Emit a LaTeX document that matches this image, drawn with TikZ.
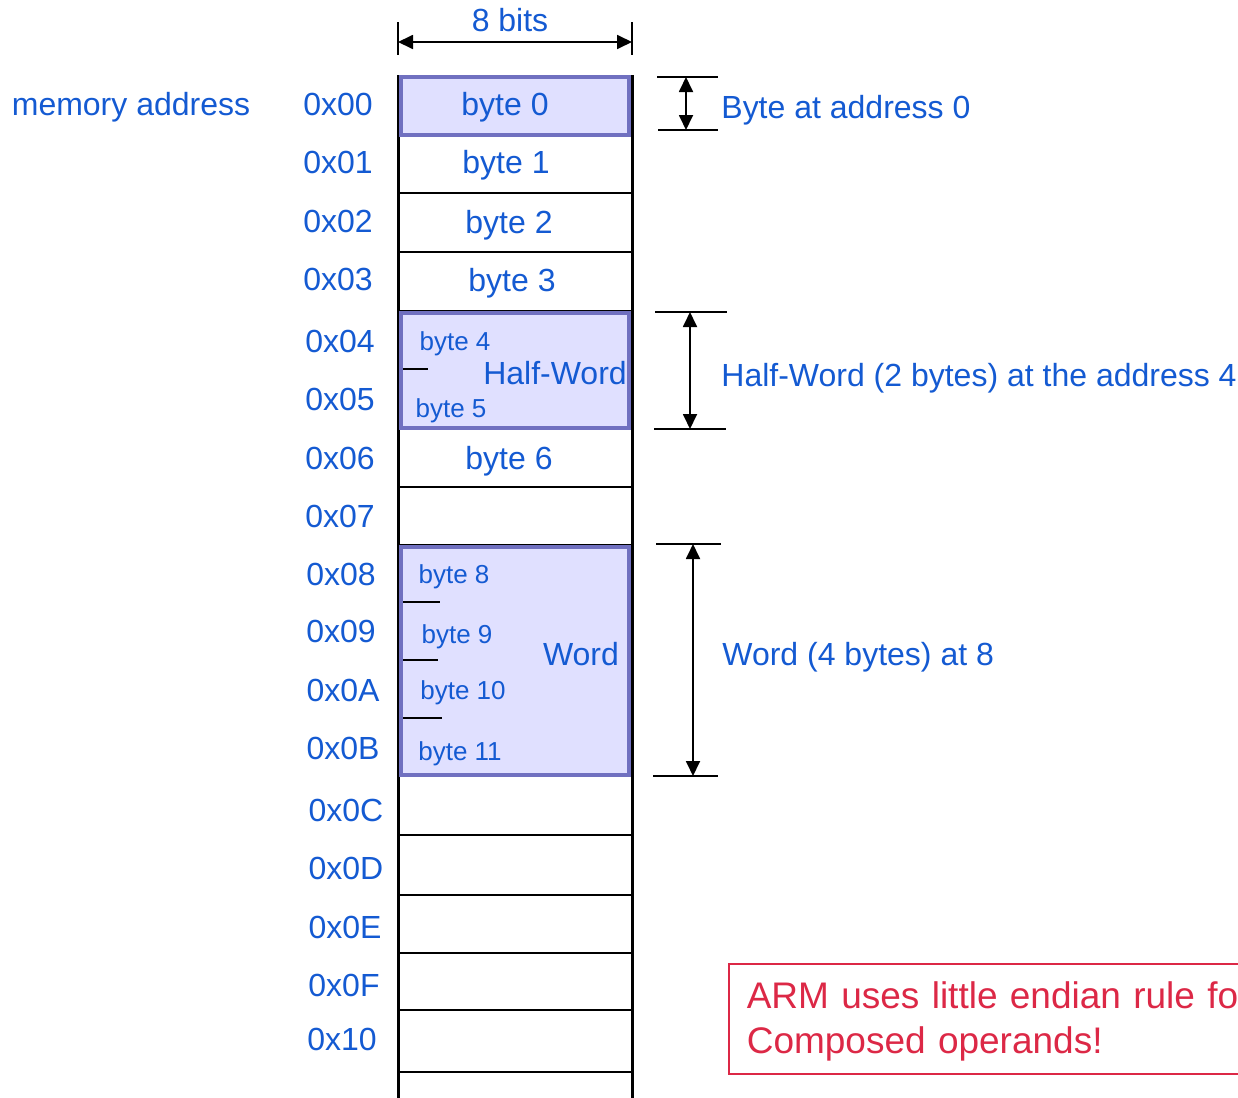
\documentclass[tikz,border=0pt]{standalone}
\usepackage{fontspec}
\setmainfont{Liberation Sans}
\usetikzlibrary{arrows.meta, positioning}
\definecolor{addrblue}{RGB}{20,90,210}
\definecolor{boxfill}{RGB}{224,224,255}
\definecolor{boxedge}{RGB}{112,112,192}
\definecolor{notered}{RGB}{220,40,70}

\begin{document}
\begin{tikzpicture}[x=0.5pt, y=-0.5pt,
  addr/.style={font=\fontsize{16}{19}\selectfont, text=addrblue, inner sep=0pt, text depth=0pt},
  inbyte/.style={font=\fontsize{13}{16}\selectfont, text=addrblue, inner sep=0pt, text depth=0pt},
  grp/.style={draw=boxedge, line width=2pt, fill=boxfill},
  dimarrow/.style={{Triangle[length=7.5pt,width=7pt]}-{Triangle[length=7.5pt,width=7pt]}, line width=0.9pt},
  dimtick/.style={line width=0.9pt}]

% === frame ===
\useasboundingbox (0,0) rectangle (1238,1098);
\clip (0,0) rectangle (1238,1098);

% === memory column ===
\draw[line width=1.5pt] (398,75) -- (398,1098) (632,75) -- (632,1098);
\foreach \y in {136,193,252,311,429,487,545,776,835,895,953,1010,1072}
  \draw[line width=0.9pt] (398,\y) -- (632,\y);

% grouped bytes
\draw[grp] (401,77) rectangle (629,135);
\draw[grp] (401,313) rectangle (629,428);
\draw[grp] (401,547) rectangle (629,775);
\draw[line width=0.8pt] (403,369) -- (428,369);
\foreach \y/\w in {602/440,660/438,718/442}
  \draw[line width=0.8pt] (403,\y) -- (\w,\y);

% === addresses ===
\node[addr] (memaddr) at (131,104) {memory address};
\foreach \name/\txt/\x/\y in {a0/0x00/338/104, a1/0x01/338/162, a2/0x02/338/221,
    a3/0x03/338/279, a4/0x04/340/341, a5/0x05/340/399, a6/0x06/340/458,
    a7/0x07/340/516, a8/0x08/341/574, a9/0x09/341/631, a10/0x0A/343/690,
    a11/0x0B/343/748, a12/0x0C/346/810, a13/0x0D/346/868, a14/0x0E/345/927,
    a15/0x0F/344/985, a16/0x10/342/1039}
  \node[addr] (\name) at (\x,\y) {\txt};

% === cell texts ===
\node[addr] (b0) at (505,104) {byte 0};
\node[addr] (b1) at (506,162) {byte 1};
\node[addr] (b2) at (509,222) {byte 2};
\node[addr] (b3) at (512,280) {byte 3};
\node[inbyte] (b4) at (455,341) {byte 4};
\node[addr] (half) at (555,373) {Half-Word};
\node[inbyte] (b5) at (451,408) {byte 5};
\node[addr] (b6) at (509,458) {byte 6};
\node[inbyte] (b8) at (454,574) {byte 8};
\node[inbyte] (b9) at (457,634) {byte 9};
\node[inbyte] (b10) at (463,690) {byte 10};
\node[inbyte] (b11) at (460,751) {byte 11};
\node[addr] (word) at (581,654) {Word};

% === width of a byte ===
\coordinate (wl) at (398,42);
\coordinate (wr) at (632,42);
\draw[dimtick] (398,22) -- (398,55) (632,22) -- (632,55);
\draw[dimarrow] (wl) -- (wr);
\node[addr] (bits) at (510,20) {8 bits};

% === spans ===
\coordinate (s0t) at (686,77);
\coordinate (s0b) at (686,130);
\draw[dimtick] (657,77) -- (718,77) (658,130) -- (718,130);
\draw[dimarrow] (s0t) -- (s0b);
\node[addr, anchor=west] (spanbyte) at (721,107) {Byte at address 0};

\coordinate (s1t) at (690,312);
\coordinate (s1b) at (690,429);
\draw[dimtick] (655,312) -- (727,312) (654,429) -- (726,429);
\draw[dimarrow] (s1t) -- (s1b);
\node[addr, anchor=west] (spanhalf) at (721,375) {Half-Word (2 bytes) at the address 4};

\coordinate (s2t) at (693,544);
\coordinate (s2b) at (693,776);
\draw[dimtick] (656,544) -- (721,544) (653,776) -- (718,776);
\draw[dimarrow] (s2t) -- (s2b);
\node[addr, anchor=west] (spanword) at (722,654) {Word (4 bytes) at 8};

% === note ===
\node[draw=notered, line width=0.8pt, anchor=north west, minimum height=55pt,
      text width=280pt, inner xsep=9pt, inner ysep=3pt, align=left, text=notered,
      text height=16.5pt, font=\fontsize{18.5}{22.5}\selectfont] (note) at (728,963)
  {ARM uses little endian rule for\\Composed operands!};

\end{tikzpicture}
\end{document}
